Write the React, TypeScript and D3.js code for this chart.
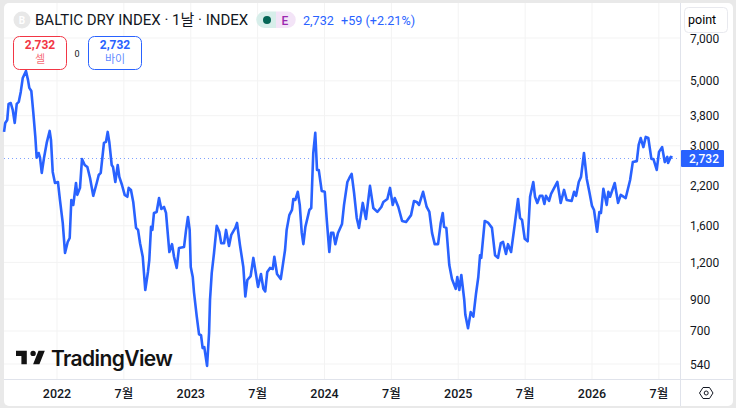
import React from "react";
import * as d3 from "d3";

// [decimal year, index value]
const bdi: [number, number][] = [
  [2021.604, 3346], [2021.613, 3590], [2021.628, 3677], [2021.638, 4170], [2021.654, 4200], [2021.669, 3978],
  [2021.684, 3590], [2021.699, 4170], [2021.714, 4235], [2021.729, 4582], [2021.744, 5115], [2021.768, 5404],
  [2021.783, 5036], [2021.793, 4730], [2021.808, 4618], [2021.823, 3885], [2021.838, 3217], [2021.848, 2732],
  [2021.863, 2835], [2021.873, 2732], [2021.886, 2424], [2021.903, 2732], [2021.923, 3069], [2021.945, 3372],
  [2021.955, 3142], [2021.968, 2443], [2021.985, 2240], [2022.007, 2258], [2022.022, 1960], [2022.043, 1636],
  [2022.06, 1292], [2022.08, 1409], [2022.095, 1454], [2022.107, 1960], [2022.122, 1885], [2022.142, 2240],
  [2022.152, 2040], [2022.172, 2155], [2022.187, 2706], [2022.207, 2580], [2022.227, 2540], [2022.247, 2330],
  [2022.271, 2025], [2022.297, 2240], [2022.312, 2385], [2022.327, 2424], [2022.351, 3069], [2022.366, 3093],
  [2022.379, 3346], [2022.391, 3093], [2022.409, 2580], [2022.419, 2540], [2022.436, 2258], [2022.454, 2580],
  [2022.466, 2350], [2022.486, 2205], [2022.506, 2040], [2022.526, 2010], [2022.536, 2155], [2022.553, 2121],
  [2022.57, 1930], [2022.591, 1574], [2022.606, 1549], [2022.621, 1395], [2022.641, 1255], [2022.66, 966],
  [2022.68, 1113], [2022.69, 1223], [2022.703, 1586], [2022.713, 1549], [2022.725, 1770], [2022.745, 1784],
  [2022.763, 1990], [2022.78, 1826], [2022.8, 1855], [2022.815, 1770], [2022.84, 1302], [2022.86, 1385],
  [2022.875, 1255], [2022.895, 1149], [2022.912, 1344], [2022.95, 1355], [2022.965, 1549], [2022.979, 1715],
  [2022.992, 1549], [2023.0, 1158], [2023.015, 1070], [2023.024, 950], [2023.045, 783], [2023.062, 682],
  [2023.077, 677], [2023.089, 612], [2023.101, 617], [2023.122, 532], [2023.137, 690], [2023.144, 893],
  [2023.157, 1105], [2023.174, 1292], [2023.194, 1600], [2023.213, 1527], [2023.228, 1395], [2023.249, 1395],
  [2023.264, 1549], [2023.286, 1365], [2023.303, 1490], [2023.333, 1574], [2023.346, 1636], [2023.368, 1375],
  [2023.393, 1158], [2023.408, 918], [2023.423, 1045], [2023.448, 1078], [2023.468, 1243], [2023.503, 990],
  [2023.525, 1095], [2023.543, 975], [2023.557, 955], [2023.572, 1113], [2023.593, 1149], [2023.613, 1140],
  [2023.625, 1255], [2023.645, 1095], [2023.673, 1053], [2023.705, 1323], [2023.717, 1549], [2023.737, 1740],
  [2023.757, 1812], [2023.767, 1975], [2023.782, 1960], [2023.8, 2090], [2023.815, 1885], [2023.83, 1513],
  [2023.842, 1385], [2023.857, 1586], [2023.887, 1812], [2023.901, 1840], [2023.916, 2835], [2023.931, 3320],
  [2023.944, 2482], [2023.957, 2482], [2023.979, 2105], [2024.002, 2090], [2024.017, 1675], [2024.036, 1302],
  [2024.049, 1513], [2024.066, 1513], [2024.081, 1385], [2024.101, 1513], [2024.131, 1623], [2024.146, 1885],
  [2024.171, 2258], [2024.186, 2330], [2024.203, 2405], [2024.221, 2075], [2024.241, 1702], [2024.258, 1574],
  [2024.286, 1915], [2024.31, 1688], [2024.34, 2190], [2024.365, 1840], [2024.395, 1784], [2024.425, 1855],
  [2024.44, 1930], [2024.47, 1975], [2024.49, 2155], [2024.51, 1885], [2024.525, 1990], [2024.552, 1855],
  [2024.58, 1662], [2024.61, 1649], [2024.647, 1740], [2024.669, 1945], [2024.689, 1930], [2024.707, 1885],
  [2024.737, 2090], [2024.764, 1855], [2024.784, 1784], [2024.804, 1513], [2024.824, 1385], [2024.849, 1385],
  [2024.869, 1636], [2024.884, 1770], [2024.894, 1586], [2024.911, 1574], [2024.933, 1175], [2024.953, 1053],
  [2024.981, 975], [2024.993, 1070], [2025.008, 966], [2025.023, 1087], [2025.045, 893], [2025.053, 795],
  [2025.073, 715], [2025.093, 812], [2025.113, 783], [2025.133, 940], [2025.15, 1070], [2025.163, 1270],
  [2025.172, 1243], [2025.198, 1662], [2025.225, 1636], [2025.252, 1574], [2025.275, 1270], [2025.297, 1243],
  [2025.318, 1395], [2025.335, 1409], [2025.357, 1282], [2025.372, 1385], [2025.395, 1302], [2025.422, 1612],
  [2025.447, 1975], [2025.462, 1702], [2025.477, 1675], [2025.497, 1445], [2025.519, 1417], [2025.537, 2010],
  [2025.561, 2258], [2025.574, 2010], [2025.591, 1915], [2025.611, 2025], [2025.629, 2025], [2025.644, 1900],
  [2025.656, 2025], [2025.679, 1945], [2025.694, 2057], [2025.741, 2258], [2025.766, 1915], [2025.791, 2121],
  [2025.811, 1960], [2025.848, 1945], [2025.866, 2090], [2025.881, 2025], [2025.901, 2258], [2025.918, 2350],
  [2025.94, 2835], [2025.961, 2312], [2025.98, 2090], [2026.0, 1870], [2026.015, 1812], [2026.038, 1527],
  [2026.055, 1784], [2026.067, 1770], [2026.085, 2140], [2026.11, 1885], [2026.122, 2090], [2026.135, 2010],
  [2026.17, 2240], [2026.195, 1915], [2026.215, 2040], [2026.252, 1990], [2026.285, 2294], [2026.305, 2640],
  [2026.335, 2660], [2026.349, 3020], [2026.364, 3190], [2026.384, 2970], [2026.402, 3217], [2026.421, 3190],
  [2026.444, 2706], [2026.459, 2706], [2026.484, 2482], [2026.501, 2860], [2026.524, 2970], [2026.544, 2640],
  [2026.563, 2750], [2026.569, 2620], [2026.589, 2750], [2026.601, 2732],
];

const priceTicks = [540, 700, 900, 1200, 1600, 2200, 3000, 3800, 5000, 7000];
const timeTicks = [2022, 2022.5, 2023, 2023.5, 2024, 2024.5, 2025, 2025.5, 2026, 2026.5];
const timeLabels = ["2022", "7월", "2023", "7월", "2024", "7월", "2025", "7월", "2026", "7월"];
const lastPrice = 2732;

const BLUE = "#2962ff";
const RED = "#f23645";
const TEXT = "#131722";
const GRID = "#f3f3f3";
const FONT = "Roboto, 'Noto Sans CJK KR', sans-serif";

const App: React.FC = () => {
  const x = d3.scaleLinear().domain([2022, 2026]).range([57, 592]);
  const y = d3.scaleLog().domain([540, 7000]).range([364, 38]);
  const line = d3.line<[number, number]>()
    .x(d => x(d[0]))
    .y(d => y(d[1]));
  const fmt = d3.format(",");
  const lastY = Math.round(y(lastPrice)) + 0.5;

  return (
    <svg width={736} height={408} style={{ position: "absolute", left: 0, top: 0 }} fontFamily={FONT}>
      <rect width={736} height={408} fill="#e9e9e9" />
      <rect x={4} y={3} width={729} height={403} rx={5} fill="#fff" />

      {/* grid */}
      {priceTicks.map(t => (
        <line key={t} x1={4} x2={680} y1={y(t)} y2={y(t)} stroke={GRID} />
      ))}
      {timeTicks.map(t => (
        <line key={t} x1={x(t)} x2={x(t)} y1={3} y2={379} stroke={GRID} />
      ))}

      {/* last price line */}
      <line x1={4} x2={680} y1={lastY} y2={lastY} stroke={BLUE} strokeOpacity={0.6} strokeDasharray="1 3" />

      <path d={line(bdi) ?? ""} fill="none" stroke={BLUE} strokeWidth={2.6} strokeLinejoin="round" />

      {/* watermark */}
      <path
        transform="translate(14.2 345.3) scale(0.9)"
        d="M14 6H2v6h6v9h6V6zm14 15h-7l6-15h7l-6 15zm-7-9a3 3 0 1 0 0-6 3 3 0 0 0 0 6z"
        fill="#131313"
      />
      <text x={51} y={366} fontSize={21} fontWeight={600} fill="#131313" fontFamily="Inter, sans-serif" letterSpacing={-0.6}>TradingView</text>

      {/* price axis */}
      <line x1={680.5} x2={680.5} y1={3} y2={406} stroke="#e0e3eb" />
      {priceTicks.map(t => (
        <text key={t} x={690} y={y(t) + 4.5} fontSize={12} fill={TEXT}>{fmt(t)}</text>
      ))}
      <rect x={681} y={150} width={43} height={17} fill={BLUE} rx={1} />
      <text x={689} y={162.5} fontSize={12} fontWeight={500} fill="#fff">{fmt(lastPrice)}</text>
      <rect x={684.5} y={7.5} width={43} height={25} rx={4} fill="#fff" stroke="#e8e9ee" />
      <text x={688} y={24} fontSize={12.5} fill="#000">point</text>

      {/* time axis */}
      <line x1={4} x2={733} y1={379.5} y2={379.5} stroke="#e0e3eb" />
      {timeTicks.map((t, i) => (
        <text key={t} x={x(t)} y={397.5} fontSize={12.5} fontWeight={500} fill={TEXT} textAnchor="middle">{timeLabels[i]}</text>
      ))}
      <path d="M699.5 393 L703 387.5 H709.5 L713 393 L709.5 398.5 H703 Z" fill="none" stroke={TEXT} />
      <circle cx={706.2} cy={393} r={2} fill="none" stroke={TEXT} />

      {/* header */}
      <circle cx={22} cy={20} r={8.5} fill="#e8e8e8" />
      <text x={22} y={24} fontSize={10} fontWeight={700} fill="#fff" textAnchor="middle">B</text>
      <text x={35} y={25} fontSize={15} fill={TEXT}>BALTIC DRY INDEX · 1날 · INDEX</text>
      <path d="M264.5 11.5 H276 V28 H264.5 A8.2 8.2 0 0 1 264.5 11.5 Z" fill="#d7eeea" />
      <path d="M276 11.5 H287.5 A8.2 8.2 0 0 1 287.5 28 H276 Z" fill="#f3e4f7" />
      <circle cx={267} cy={20} r={4} fill="#056656" />
      <text x={285} y={24.5} fontSize={12} fontWeight={500} fill="#9c27b0" textAnchor="middle">E</text>
      <text x={303} y={25} fontSize={12.6} fill={BLUE}>2,732</text>
      <text x={341} y={25} fontSize={12.6} fill={BLUE}>+59 (+2.21%)</text>

      {/* sell / buy */}
      <rect x={13.5} y={36.5} width={53} height={33} rx={6} fill="#fff" stroke={RED} />
      <text x={40} y={49} fontSize={12} fontWeight={700} fill={RED} textAnchor="middle">2,732</text>
      <text x={40} y={63} fontSize={11} fill={RED} fillOpacity={0.75} textAnchor="middle">셀</text>
      <text x={77} y={57} fontSize={9} fill={TEXT} textAnchor="middle">0</text>
      <rect x={88.5} y={36.5} width={53} height={33} rx={6} fill="#fff" stroke={BLUE} />
      <text x={115} y={49} fontSize={12} fontWeight={700} fill={BLUE} textAnchor="middle">2,732</text>
      <text x={115} y={63} fontSize={11} fill={BLUE} fillOpacity={0.75} textAnchor="middle">바이</text>
    </svg>
  );
};

export default App;
